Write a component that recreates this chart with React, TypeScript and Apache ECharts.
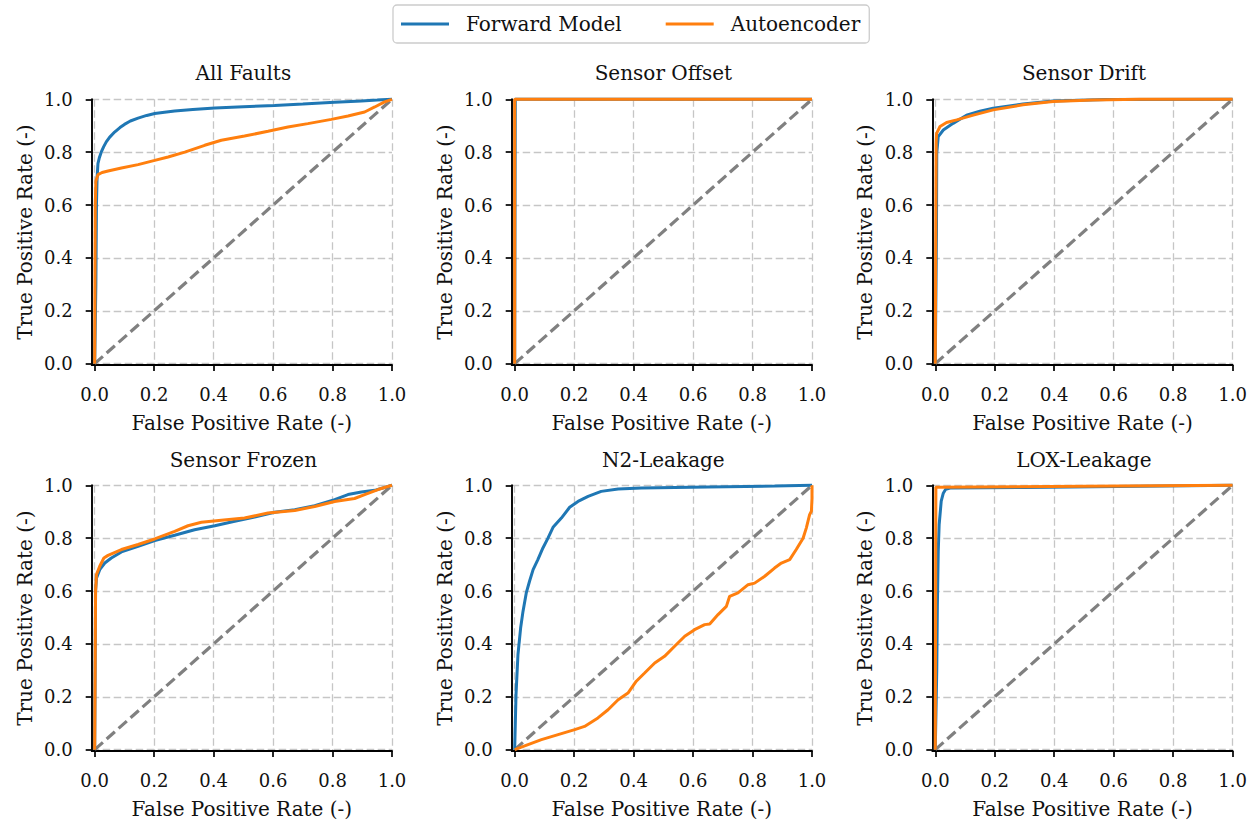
import React, { useEffect, useRef } from "react";
import * as echarts from "echarts";

type Pt = [number, number];

const panelTitles = ["All Faults", "Sensor Offset", "Sensor Drift", "Sensor Frozen", "N2-Leakage", "LOX-Leakage"];
const seriesNames = ["Forward Model", "Autoencoder"];
const tickValues = [0, 0.2, 0.4, 0.6, 0.8, 1.0];
const xAxisName = "False Positive Rate (-)";
const yAxisName = "True Positive Rate (-)";
const diagonal: Pt[] = [[0, 0], [1, 1]];

const allFaultsForward: Pt[] = [[0,0],[0.004,0.3],[0.006,0.6],[0.008,0.7],[0.011,0.757],[0.016,0.78],[0.022,0.8],[0.03,0.82],[0.039,0.839],[0.05,0.856],[0.067,0.876],[0.085,0.893],[0.1,0.905],[0.12,0.918],[0.146,0.929],[0.175,0.939],[0.202,0.946],[0.235,0.951],[0.269,0.956],[0.33,0.961],[0.404,0.967],[0.5,0.972],[0.605,0.977],[0.7,0.982],[0.807,0.989],[0.897,0.994],[0.95,0.997],[1,1]];
const allFaultsAuto: Pt[] = [[0,0],[0.002,0.6],[0.004,0.69],[0.011,0.715],[0.025,0.723],[0.045,0.729],[0.09,0.74],[0.146,0.753],[0.202,0.769],[0.247,0.782],[0.303,0.8],[0.37,0.826],[0.426,0.845],[0.504,0.861],[0.583,0.879],[0.65,0.895],[0.717,0.908],[0.796,0.924],[0.852,0.937],[0.908,0.952],[0.942,0.971],[0.975,0.99],[1,1]];

const offsetForward: Pt[] = [[0,0],[0.002,1.0],[1,1]];
const offsetAuto: Pt[] = [[0,0],[0.0,1.0],[1,1]];

const driftForward: Pt[] = [[0,0],[0.004,0.5],[0.005,0.796],[0.01,0.859],[0.027,0.884],[0.06,0.909],[0.105,0.94],[0.15,0.955],[0.195,0.966],[0.295,0.982],[0.396,0.994],[0.575,0.999],[1,1]];
const driftAuto: Pt[] = [[0,0],[0.002,0.6],[0.003,0.84],[0.0045,0.871],[0.016,0.897],[0.038,0.912],[0.072,0.922],[0.128,0.94],[0.195,0.96],[0.295,0.979],[0.396,0.992],[0.53,0.997],[0.687,1.0],[1,1]];

const frozenForward: Pt[] = [[0,0],[0.002,0.4],[0.003,0.6],[0.006,0.649],[0.017,0.681],[0.034,0.706],[0.056,0.725],[0.09,0.748],[0.146,0.769],[0.202,0.791],[0.269,0.811],[0.336,0.832],[0.404,0.847],[0.471,0.864],[0.538,0.88],[0.605,0.898],[0.673,0.908],[0.74,0.923],[0.807,0.946],[0.852,0.965],[0.897,0.975],[0.942,0.981],[1,1]];
const frozenAuto: Pt[] = [[0,0],[0.002,0.4],[0.003,0.6],[0.006,0.662],[0.017,0.694],[0.031,0.725],[0.045,0.735],[0.09,0.757],[0.146,0.776],[0.202,0.797],[0.269,0.826],[0.314,0.847],[0.359,0.86],[0.426,0.868],[0.504,0.876],[0.583,0.895],[0.673,0.905],[0.74,0.92],[0.807,0.939],[0.874,0.95],[0.908,0.965],[0.953,0.984],[1,1]];

const n2Forward: Pt[] = [[0,0],[0.0045,0.208],[0.011,0.359],[0.02,0.46],[0.028,0.523],[0.039,0.593],[0.05,0.637],[0.062,0.681],[0.078,0.719],[0.095,0.763],[0.112,0.8],[0.129,0.841],[0.157,0.876],[0.185,0.917],[0.213,0.939],[0.247,0.958],[0.291,0.977],[0.348,0.986],[0.426,0.99],[0.65,0.994],[0.874,0.997],[1,1]];
const n2Auto: Pt[] = [[0,0],[0.045,0.019],[0.09,0.038],[0.146,0.057],[0.202,0.076],[0.235,0.088],[0.28,0.12],[0.314,0.151],[0.348,0.189],[0.381,0.214],[0.409,0.259],[0.437,0.29],[0.471,0.328],[0.504,0.353],[0.538,0.391],[0.572,0.429],[0.605,0.454],[0.639,0.473],[0.656,0.475],[0.684,0.511],[0.712,0.542],[0.723,0.58],[0.751,0.593],[0.785,0.624],[0.807,0.63],[0.841,0.656],[0.874,0.687],[0.897,0.706],[0.925,0.719],[0.947,0.757],[0.97,0.8],[0.981,0.839],[0.992,0.889],[0.998,0.902],[1.0,0.95],[1,1]];

const loxForward: Pt[] = [[0,0],[0.005,0.3],[0.007,0.54],[0.01,0.75],[0.013,0.85],[0.02,0.94],[0.027,0.97],[0.035,0.985],[0.05,0.99],[0.3,0.992],[1,1]];
const loxAuto: Pt[] = [[0,0],[0.002,0.993],[0.5,0.996],[1,1]];

const forwardCurves = [allFaultsForward, offsetForward, driftForward, frozenForward, n2Forward, loxForward];
const autoCurves = [allFaultsAuto, offsetAuto, driftAuto, frozenAuto, n2Auto, loxAuto];

const FONT = "'DejaVu Serif', serif";
const TEXT = "#111111";
const BLUE = "#1f77b4";
const ORANGE = "#ff7f0e";

function buildOption() {
  const lefts = [91.7, 511.7, 932.3];
  const tops = [99.3, 485.3];
  const W = 300.3;
  const H = 265.7;
  const grids: any[] = [];
  const xAxes: any[] = [];
  const yAxes: any[] = [];
  const titles: any[] = [];
  const series: any[] = [];
  const fmt = (v: number) => v.toFixed(1);
  for (let i = 0; i < 6; i++) {
    const col = i % 3;
    const row = Math.floor(i / 3);
    const left = lefts[col];
    const top = tops[row];
    grids.push({ left, top, width: W, height: H, containLabel: false });
    const axisCommon = {
      axisLine: { show: true, onZero: false, lineStyle: { color: "#000", width: 1.9 } },
      axisTick: { show: true, length: 6, inside: false, customValues: tickValues, lineStyle: { color: "#000", width: 1.7 } },
      splitLine: { show: true, lineStyle: { color: "#c6c6c6", width: 1.3, type: [7.5, 3.5] } },
      nameTextStyle: { fontFamily: FONT, fontSize: 20, color: TEXT },
    };
    xAxes.push({
      type: "value", gridIndex: i, min: -0.01, max: 1,
      ...axisCommon,
      axisLabel: { customValues: tickValues, formatter: fmt, fontFamily: FONT, fontSize: 18, color: TEXT, margin: 20 },
      name: xAxisName, nameLocation: "middle", nameGap: 48,
    });
    yAxes.push({
      type: "value", gridIndex: i, min: -0.005, max: 1,
      ...axisCommon,
      axisLabel: { customValues: tickValues, formatter: fmt, fontFamily: FONT, fontSize: 18, color: TEXT, margin: 19 },
      name: yAxisName, nameLocation: "middle", nameGap: 57, nameRotate: 90,
    });
    titles.push({
      text: panelTitles[i], left: left + 3 + (W - 3) / 2, top: row === 0 ? 63 : 450, textAlign: "center", padding: 0,
      textStyle: { fontFamily: FONT, fontSize: 20, fontWeight: "normal", color: TEXT },
    });
    const common = { type: "line", xAxisIndex: i, yAxisIndex: i, showSymbol: false, symbol: "none", clip: false, silent: true, emphasis: { disabled: true } };
    series.push({ ...common, name: "diag" + i, data: diagonal, lineStyle: { color: "#808080", width: 3.2, type: [11, 5] }, z: 2 });
    series.push({ ...common, name: seriesNames[0], data: forwardCurves[i], color: BLUE, lineStyle: { color: BLUE, width: 3 }, z: 3 });
    series.push({ ...common, name: seriesNames[1], data: autoCurves[i], color: ORANGE, lineStyle: { color: ORANGE, width: 3 }, z: 4 });
  }
  return {
    animation: false,
    backgroundColor: "#ffffff",
    title: titles,
    legend: {
      data: seriesNames.map((n) => ({ name: n, icon: "rect" })),
      left: 393, top: 5, orient: "horizontal",
      padding: [9, 9, 9, 8],
      itemWidth: 48, itemHeight: 3, itemGap: 44,
      borderColor: "#cccccc", borderWidth: 1.3, borderRadius: 4, backgroundColor: "#ffffff",
      selectedMode: false,
      textStyle: { fontFamily: FONT, fontSize: 20, color: TEXT, padding: [0, 0, 0, 12] },
    },
    grid: grids,
    xAxis: xAxes,
    yAxis: yAxes,
    series,
  };
}

export default function App() {
  const ref = useRef<HTMLDivElement>(null);
  useEffect(() => {
    if (!ref.current) return;
    const chart = echarts.init(ref.current, null, { renderer: "svg" });
    chart.setOption(buildOption() as any);
    return () => chart.dispose();
  }, []);
  return <div ref={ref} style={{ position: "fixed", left: 0, top: 0, width: 1259, height: 825, background: "#fff" }} />;
}
